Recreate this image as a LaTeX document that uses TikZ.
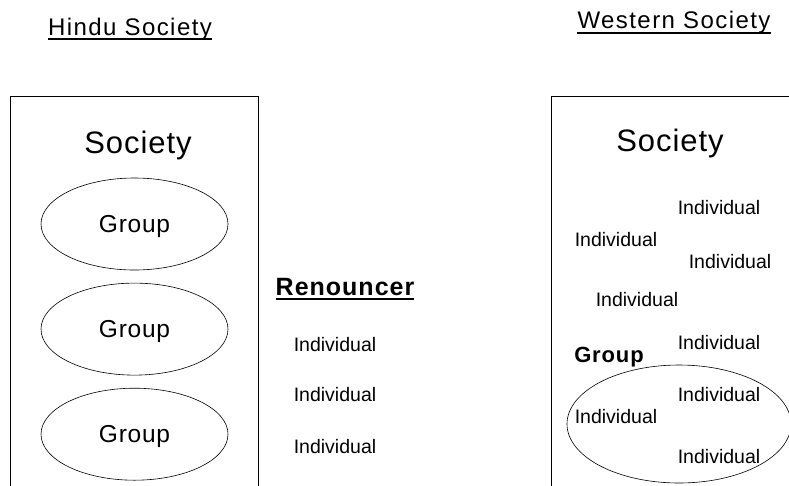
\documentclass[tikz,border=0pt]{standalone}
\usepackage{fontspec}
\setmainfont{Liberation Sans}
\newfontfamily\widesans[LetterSpace=6]{Liberation Sans}
\newfontfamily\boldsans[LetterSpace=4]{Liberation Sans}
\newfontfamily\tightsans[LetterSpace=3]{Liberation Sans}
\usetikzlibrary{positioning,shapes.geometric}

\begin{document}
\begin{tikzpicture}[x=1pt, y=-1pt, node distance=12.5pt,
  frame/.style={draw, line width=0.9pt},
  txt/.style={inner sep=0pt},
  title/.style={txt, anchor=base, font=\widesans\fontsize{24}{28}\selectfont},
  soc/.style={txt, anchor=base, font=\tightsans\fontsize{31}{36}\selectfont},
  grp/.style={ellipse, draw, line width=0.6pt, minimum width=187pt, minimum height=92pt,
    inner sep=0pt, text depth=0pt, font=\tightsans\fontsize{24.5}{28}\selectfont},
  ind/.style={txt, font=\fontsize{19.5}{23}\selectfont},
  heading/.style={txt, anchor=base, font=\boldsans\bfseries\fontsize{#1}{26}\selectfont},
  uline/.style={line width=1.8pt}]
\useasboundingbox (0,0) rectangle (789,485);
\clip (0,0) rectangle (789,485);

% left: hindu society
\node[title] (hindu) at (130,35) {Hindu Society};
\draw[uline] ([yshift=-4pt]hindu.base west) -- ([yshift=-4pt]hindu.base east);
\draw[frame] (10,96) rectangle (258,500);
\node[soc] (hsoc) at (138,153) {Society};
\node[grp] (g1) at (134.5,224) {Group};
\node[grp, below=of g1] (g2) {Group};
\node[grp, below=of g2] (g3) {Group};

% middle: renouncer
\node[heading=25] (ren) at (345,295) {Renouncer};
\draw[uline] ([yshift=-4pt]ren.base west) -- ([yshift=-4pt]ren.base east);
\node[ind] (r1) at (335,345) {Individual};
\node[ind] (r2) at (335,395) {Individual};
\node[ind] (r3) at (335,447) {Individual};

% right: western society
\node[title] (west) at (674,28) {Western Society};
\draw[uline] ([yshift=-5pt]west.base west) -- ([yshift=-5pt]west.base east);
\draw[frame] (551,96) rectangle (820,500);
\node[soc] (wsoc) at (670,151) {Society};
\node[ind] (w1) at (719,208) {Individual};
\node[ind] (w2) at (616,240) {Individual};
\node[ind] (w3) at (730,262) {Individual};
\node[ind] (w4) at (637,300) {Individual};
\node[ind] (w5) at (719,343) {Individual};
\node[heading=22] (wgrp) at (609,362) {Group};
\node[ellipse, draw, line width=0.6pt, minimum width=224pt, minimum height=118pt] (wring) at (679,424) {};
\node[ind] (w6) at (719,395) {Individual};
\node[ind] (w7) at (616,417) {Individual};
\node[ind] (w8) at (719,457) {Individual};
\end{tikzpicture}
\end{document}
